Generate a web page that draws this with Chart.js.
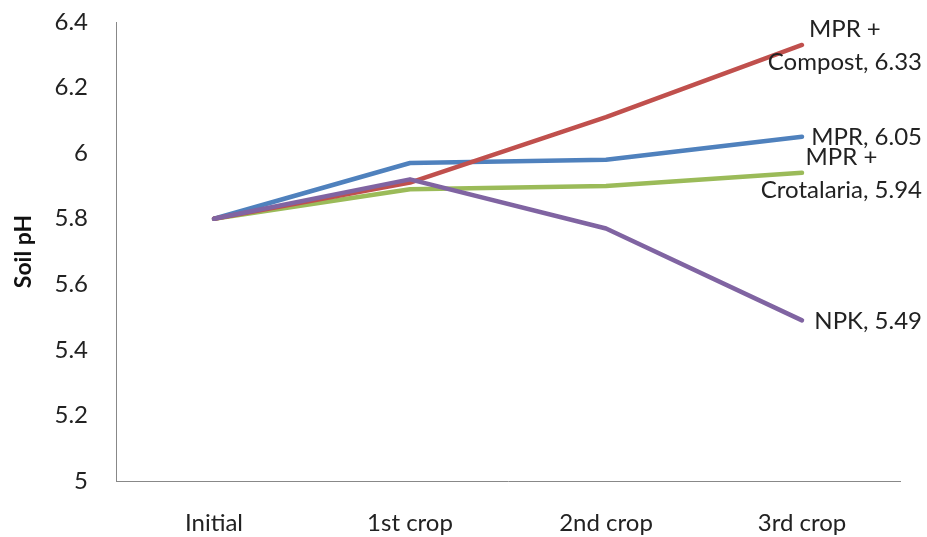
<!DOCTYPE html>
<html>
<head>
<meta charset="utf-8">
<script src="https://cdn.jsdelivr.net/npm/chart.js@4"></script>
<style>
  html, body { margin: 0; padding: 0; background: #fff; }
  #wrap { width: 927px; height: 537px; }
</style>
</head>
<body>
<div id="wrap"><canvas id="c" width="927" height="537"></canvas></div>
<script>
// Soil pH over successive crops, by treatment
const stages = ["Initial", "1st crop", "2nd crop", "3rd crop"];
const seriesNames = ["MPR", "MPR + Compost", "MPR + Crotalaria", "NPK"];
const mpr = [5.80, 5.97, 5.98, 6.05];
const mprCompost = [5.80, 5.91, 6.11, 6.33];
const mprCrotalaria = [5.80, 5.89, 5.90, 5.94];
const npk = [5.80, 5.92, 5.77, 5.49];
const yTicks = [5, 5.2, 5.4, 5.6, 5.8, 6, 6.2, 6.4];

// End-of-line label text, split onto lines the way it wraps
const endLabelLines = [
  ["MPR, " + mpr[3].toFixed(2)],
  ["MPR +", "Compost, " + mprCompost[3].toFixed(2)],
  ["MPR +", "Crotalaria, " + mprCrotalaria[3].toFixed(2)],
  ["NPK, " + npk[3].toFixed(2)]
];

const FONT = "Lato, 'Open Sans', sans-serif";
const TEXT = "#222";
const FS = 24;

const endLabels = {
  id: "endLabels",
  afterDatasetsDraw(chart) {
    const ctx = chart.ctx;
    ctx.save();
    ctx.font = FS + "px " + FONT;
    ctx.fillStyle = TEXT;
    ctx.textAlign = "center";
    ctx.textBaseline = "middle";
    const lineH = 33;
    const rightEdge = chart.width - 5;
    chart.data.datasets.forEach((ds, i) => {
      const meta = chart.getDatasetMeta(i);
      const pt = meta.data[meta.data.length - 1];
      const lines = endLabelLines[i];
      const maxW = Math.max(...lines.map(l => ctx.measureText(l).width));
      const cx = rightEdge - maxW / 2;
      const y0 = pt.y - (lines.length - 1) * lineH / 2 + 1;
      lines.forEach((l, k) => ctx.fillText(l, cx, y0 + k * lineH));
    });
    ctx.restore();
  }
};

new Chart(document.getElementById("c"), {
  type: "line",
  data: {
    labels: stages,
    datasets: [
      { label: seriesNames[0], data: mpr, borderColor: "#4F81BD", order: 3 },
      { label: seriesNames[1], data: mprCompost, borderColor: "#C0504D", order: 2 },
      { label: seriesNames[2], data: mprCrotalaria, borderColor: "#9BBB59", order: 4 },
      { label: seriesNames[3], data: npk, borderColor: "#8064A2", order: 1 }
    ].map(d => Object.assign(d, {
      borderWidth: 4.5, pointRadius: 0, pointHoverRadius: 0, tension: 0,
      fill: false, borderCapStyle: "round", borderJoinStyle: "round"
    }))
  },
  options: {
    responsive: false,
    animation: false,
    layout: { padding: { top: 0, right: 27, left: 0, bottom: 0 } },
    plugins: { legend: { display: false }, tooltip: { enabled: false } },
    scales: {
      x: {
        type: "category",
        offset: true,
        grid: { display: false, drawTicks: false },
        border: { display: true, color: "#888", width: 1 },
        ticks: { color: TEXT, font: { family: FONT, size: FS }, padding: 28, maxRotation: 0 },
        afterFit(s) { s.height = 56; }
      },
      y: {
        min: 5, max: 6.4,
        afterBuildTicks(s) { s.ticks = yTicks.map(v => ({ value: v })); },
        grid: { display: false, drawTicks: false },
        border: { display: true, color: "#888", width: 1 },
        ticks: {
          color: TEXT, font: { family: FONT, size: FS }, padding: 28,
          callback: v => String(+v.toFixed(1))
        },
        title: {
          display: true, text: "Soil pH", color: "#111",
          font: { family: FONT, size: 23, weight: "bold" }, padding: { top: 10, bottom: 6 }
        },
        afterFit(s) {
          s.width = 116;
          // keep the plot top close to the first tick label
          s.paddingTop = 22;
          s.paddingBottom = 0;
        }
      }
    }
  },
  plugins: [endLabels]
});
</script>
</body>
</html>
